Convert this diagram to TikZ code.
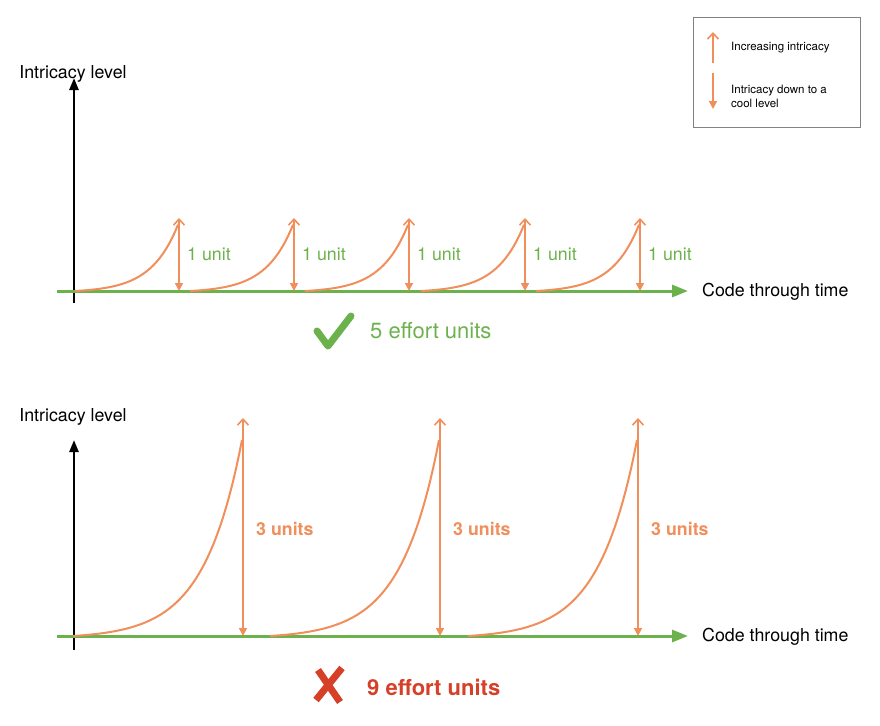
\documentclass[tikz,border=0pt]{standalone}
\usepackage{fontspec}
\setmainfont{TeX Gyre Heros}
\usetikzlibrary{arrows.meta}

\definecolor{intorange}{RGB}{240,142,92}
\definecolor{axgreen}{RGB}{108,178,76}
\definecolor{badred}{RGB}{214,64,40}
\definecolor{legendgray}{RGB}{130,130,130}

\tikzset{
  yaxis/.style={line width=2.4pt,-{Triangle[length=12pt,width=9pt]}},
  timeaxis/.style={axgreen,line width=3pt,-{Triangle[length=16pt,width=12pt]}},
  growth/.style={intorange,line width=2pt},
  cooldown/.style={intorange,line width=1.6pt,{Straight Barb[length=6pt,width=11pt,line width=1.6pt]}-{Triangle[length=8pt,width=8pt]}},
  axlabel/.style={inner sep=0pt,font=\fontsize{17.8}{20}\selectfont},
  unitlabel/.style={inner sep=0pt,anchor=west,font=\fontsize{17.8}{20}\selectfont},
  effortlabel/.style={inner sep=0pt,anchor=west,font=\fontsize{22}{24}\selectfont},
  legendtext/.style={inner sep=0pt,anchor=west,align=left,font=\fontsize{11.5}{14}\selectfont}
}

\begin{document}
\begin{tikzpicture}[x=1pt,y=1pt,yscale=-1]
\useasboundingbox (0,0) rectangle (880,725);

%Legend
\draw [legendgray,line width=1pt] (693,18) rectangle (860,127);
\coordinate (lupA) at (713,63);
\coordinate (lupB) at (713,32);
\coordinate (ldnA) at (713,73);
\coordinate (ldnB) at (713,109);
\draw [intorange,line width=1.6pt,-{Straight Barb[length=6pt,width=11pt,line width=1.6pt]}] (lupA) -- (lupB);
\draw [intorange,line width=1.6pt,-{Triangle[length=8pt,width=8pt]}] (ldnA) -- (ldnB);
\node [legendtext] (lup) at (731,48) {Increasing intricacy};
\node [legendtext] (ldn) at (731,96) {Intricacy down to a\\cool level};

%Top diagram: small steps
\coordinate (topO) at (74,303);
\coordinate (topY) at (74,78);
\coordinate (topL) at (57,291);
\coordinate (topR) at (688,291);
\draw [yaxis] (topO) -- (topY);
\node [axlabel] (toplevel) at (73,74) {Intricacy level};
\node [axlabel,anchor=west] (toptime) at (702,292) {Code through time};

\foreach \p [count=\i] in {179,294,409,525,640}{
  \coordinate (ts\i) at (\p-104,291);
  \coordinate (tt\i) at (\p,218);
  \coordinate (tb\i) at (\p,291);
}
\draw [timeaxis] (topL) -- (topR);
\foreach \p [count=\i] in {179,294,409,525,640}{
  \draw [growth,shift={(ts\i)}] plot [domain=0:103,samples=50] (\x,{-1.5*(exp(0.037*\x)-1)});
  \draw [cooldown] (tt\i) -- (tb\i);
  \node [unitlabel,axgreen] (tu\i) at (\p+8,254) {1 unit};
}

% Check mark
\coordinate (ckA) at (317,331);
\coordinate (ckB) at (328,346);
\coordinate (ckC) at (351,316);
\draw [axgreen,line width=7pt,line cap=round,line join=round] (ckA) -- (ckB) -- (ckC);
\node [effortlabel,axgreen] (good) at (370,331) {5 effort units};

%Bottom diagram: big steps
\coordinate (botO) at (74,650);
\coordinate (botY) at (74,440);
\coordinate (botL) at (57,636);
\coordinate (botR) at (688,636);
\draw [yaxis] (botO) -- (botY);
\node [axlabel] (botlevel) at (73,417) {Intricacy level};
\node [axlabel,anchor=west] (bottime) at (702,637) {Code through time};

\foreach \p [count=\i] in {243,440,638}{
  \coordinate (bs\i) at (\p-170,636);
  \coordinate (bt\i) at (\p,418);
  \coordinate (bb\i) at (\p,636);
}
\draw [timeaxis] (botL) -- (botR);
\foreach \p [count=\i] in {243,440,638}{
  \draw [growth,shift={(bs\i)}] plot [domain=0:169,samples=60] (\x,{-2.45*(exp(0.026*\x)-1)});
  \draw [cooldown] (bt\i) -- (bb\i);
  \node [unitlabel,intorange,font=\fontsize{17.8}{20}\selectfont\bfseries] (bu\i) at (\p+13,529) {3 units};
}

% Cross
\coordinate (crA) at (316,700);
\coordinate (crB) at (342,668);
\coordinate (crC) at (318,670);
\coordinate (crD) at (340,702);
\draw [badred,line width=7pt] (crA) -- (crB);
\draw [badred,line width=7pt] (crC) -- (crD);
\node [effortlabel,badred,font=\fontsize{22}{24}\selectfont\bfseries] (bad) at (367,687) {9 effort units};

\end{tikzpicture}
\end{document}
